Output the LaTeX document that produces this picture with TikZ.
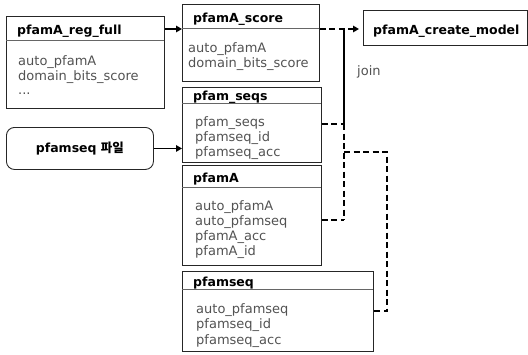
\documentclass[tikz,border=0pt]{standalone}
\usepackage{fontspec}
\setmainfont{DejaVu Sans}
\newfontfamily\krfont{Noto Sans CJK KR}
\usetikzlibrary{arrows.meta}
\begin{document}
\begin{tikzpicture}[x=1pt,y=-1pt,
  tbl/.style={draw=black!85, line width=0.9pt, anchor=north west, inner sep=0pt},
  hdr/.style={draw=black!60, line width=0.8pt},
  ttl/.style={anchor=base west, font=\bfseries\fontsize{12.5}{14}\selectfont, inner sep=0pt},
  bodyln/.style={anchor=base west, text=black!68, font=\fontsize{13}{15}\selectfont, inner sep=0pt},
  conn/.style={line width=1.8pt, draw=black},
  dconn/.style={conn, dash pattern=on 6pt off 3.5pt},
  tip/.style={-{Triangle[length=6pt,width=6.5pt]}}
]
\useasboundingbox (0,0) rectangle (528,354);

% pfamA_reg_full
\node[tbl, minimum width=158pt, minimum height=92pt] (rf) at (6,16) {};
\draw[hdr] (6,40) -- (164,40);
\node[ttl] (rft) at (17,34) {pfamA\_reg\_full};
\node[bodyln] (rf1) at (18,65) {auto\_pfamA};
\node[bodyln] (rf2) at (18,80) {domain\_bits\_score};
\node[bodyln] (rf3) at (18,94) {...};

% pfamA_score
\node[tbl, minimum width=137pt, minimum height=77pt] (sc) at (182,4) {};
\draw[hdr] (182,28) -- (319,28);
\node[ttl] (sct) at (193,22) {pfamA\_score};
\node[bodyln] (sc1) at (188,52) {auto\_pfamA};
\node[bodyln] (sc2) at (188,67) {domain\_bits\_score};

% pfamA_create_model
\node[tbl, minimum width=164pt, minimum height=35pt] (cm) at (363,10) {};
\node[ttl] (cmt) at (373,34) {pfamA\_create\_model};
\node[anchor=base west, inner sep=0pt, text=black!68, font=\fontsize{13}{15}\selectfont] (join) at (357,75) {join};

% pfamseq file
\node[draw=black!85, line width=0.9pt, rounded corners=8pt, anchor=north west,
      minimum width=147pt, minimum height=42pt, inner sep=0pt,
      font=\bfseries\fontsize{12.5}{14}\selectfont] (pf) at (6,127)
      {pfamseq {\krfont\bfseries 파일}};

% pfam_seqs
\node[tbl, minimum width=139pt, minimum height=75pt] (sq) at (182,87) {};
\draw[hdr] (182,103) -- (321,103);
\node[ttl] (sqt) at (193,100) {pfam\_seqs};
\node[bodyln] (sq1) at (195,126) {pfam\_seqs};
\node[bodyln] (sq2) at (195,141) {pfamseq\_id};
\node[bodyln] (sq3) at (195,156) {pfamseq\_acc};

% pfamA
\node[tbl, minimum width=139pt, minimum height=100pt] (pa) at (182,165) {};
\draw[hdr] (182,187) -- (321,187);
\node[ttl] (pat) at (193,182) {pfamA};
\node[bodyln] (pa1) at (195,210) {auto\_pfamA};
\node[bodyln] (pa2) at (195,225) {auto\_pfamseq};
\node[bodyln] (pa3) at (195,240) {pfamA\_acc};
\node[bodyln] (pa4) at (195,255) {pfamA\_id};

% pfamseq
\node[tbl, minimum width=191pt, minimum height=80pt] (ps) at (182,271) {};
\draw[hdr] (182,289) -- (373,289);
\node[ttl] (pst) at (193,286) {pfamseq};
\node[bodyln] (ps1) at (196,313) {auto\_pfamseq};
\node[bodyln] (ps2) at (196,328.5) {pfamseq\_id};
\node[bodyln] (ps3) at (196,344) {pfamseq\_acc};

% junction coordinates
\coordinate (j0) at (344,29);
\coordinate (ja) at (344,124);
\coordinate (jb) at (344,152);
\coordinate (jc) at (344,220);
\coordinate (jd) at (387,152);
\coordinate (je) at (387,311);

% connectors
\draw[conn, tip] (rf.east |- 0,29) -- (sc.west |- 0,29);
\draw[conn, tip] (pf.east) -- (sq.west |- pf.east);
\draw[dconn, tip, shorten >=4pt] (sc.east |- j0) -- (cm.west |- j0);
\draw[conn] (j0) -- (ja);
\draw[dconn] (sq.east |- ja) -- (ja);
\draw[dconn] (ja) -- (jc);
\draw[dconn] (pa.east |- jc) -- (jc);
\draw[dconn] (jb) -- (jd) -- (je) -- (ps.east |- je);
\end{tikzpicture}
\end{document}
